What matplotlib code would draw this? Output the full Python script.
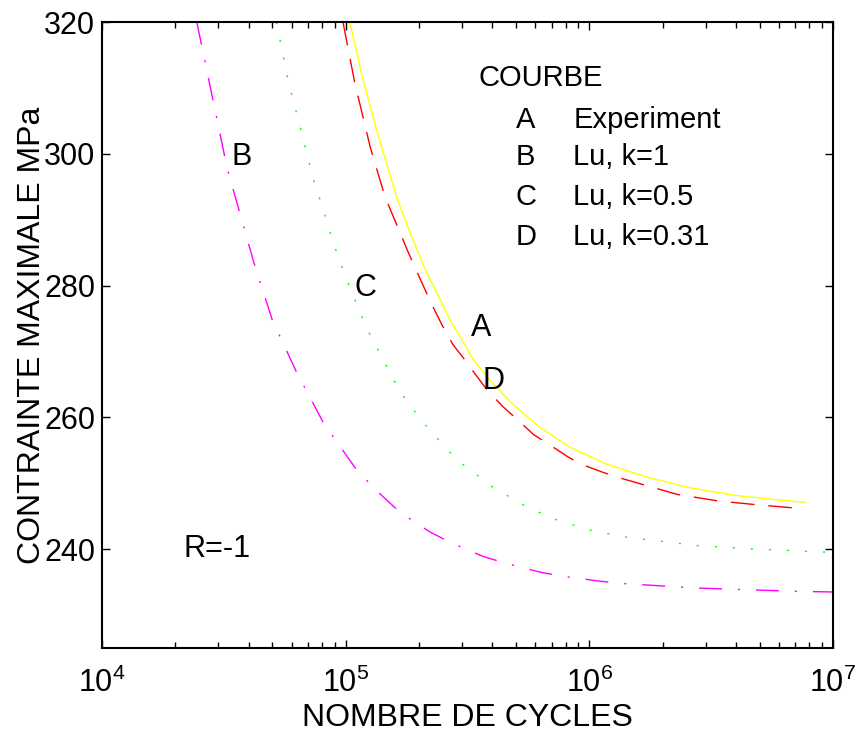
import matplotlib
matplotlib.use('Agg')
import matplotlib.pyplot as plt
from matplotlib.ticker import LogLocator, LogFormatterSciNotation, NullFormatter

plt.rcParams['font.family'] = ['Liberation Sans', 'DejaVu Sans']

# Courbe A : experiment (yellow, solid)
n_a = [1.04e5, 1.18e5, 1.34e5, 1.62e5, 1.84e5, 2.1e5, 2.44e5, 2.68e5, 3.0e5, 3.33e5, 3.98e5,
       4.85e5, 6.26e5, 8.3e5, 1.18e6, 1.74e6, 2.6e6, 3.9e6, 5.5e6, 7.7e6]
s_a = [320.0, 311.2, 303.6, 293.4, 288.0, 282.8, 277.9, 274.8, 271.8, 268.8, 265.3,
       262.0, 258.5, 255.5, 252.9, 250.9, 249.3, 248.2, 247.6, 247.1]

# Courbe D : Lu, k=0.31 (red, dashed)
n_d = [9.75e4, 1.09e5, 1.26e5, 1.45e5, 1.8e5, 2.0e5, 2.26e5, 2.48e5, 2.75e5, 3.03e5, 3.46e5,
       3.8e5, 4.4e5, 4.95e5, 5.9e5, 6.7e5, 8.1e5, 9.1e5, 1.13e6, 1.31e6, 2.3e6, 3.4e6, 5.0e6, 7.2e6]
s_d = [320.0, 310.8, 301.1, 293.5, 285.2, 281.4, 277.1, 274.1, 271.1, 269.1, 266.2,
       264.2, 261.7, 260.0, 257.4, 256.1, 254.1, 253.0, 251.7, 250.9, 248.3, 247.3, 246.7, 246.2]

# Courbe C : Lu, k=0.5 (green, dotted)
n_c = [5.2e4, 5.8e4, 6.6e4, 6.9e4, 7.5e4, 8.0e4, 8.8e4, 9.9e4, 1.21e5, 1.67e5, 2.06e5, 2.6e5,
       2.94e5, 3.4e5, 3.9e5, 5.3e5, 7.0e5, 1.0e6, 1.43e6, 2.84e6, 4.9e6, 1.0e7]
s_c = [320.0, 311.2, 303.2, 300.3, 295.0, 292.3, 287.0, 281.7, 273.8, 263.9, 259.4, 255.2,
       253.2, 251.5, 249.7, 246.8, 244.7, 242.9, 241.8, 240.5, 240.0, 239.5]

# Courbe B : Lu, k=1 (magenta, dash-dot)
n_b = [2.45e4, 3.26e4, 3.8e4, 4.2e4, 5.0e4, 6.3e4, 8.1e4, 1.12e5, 1.42e5, 1.67e5, 2.22e5,
       2.66e5, 3.66e5, 4.5e5, 6.3e5, 7.7e5, 1.07e6, 1.34e6, 2.75e6, 7.0e6, 1.0e7]
s_b = [320.0, 297.9, 289.2, 283.5, 274.8, 266.8, 259.2, 251.8, 248.0, 245.6, 242.6,
       241.1, 238.9, 237.9, 236.5, 235.9, 235.2, 234.8, 234.1, 233.6, 233.5]

legend_letters = ['A', 'B', 'C', 'D']
legend_names = ['Experiment', 'Lu, k=1', 'Lu, k=0.5', 'Lu, k=0.31']

fig = plt.figure(figsize=(8.57, 7.38), dpi=100)
ax = fig.add_axes([0.119, 0.122, 0.853, 0.848])

ax.plot(n_a, s_a, color='#ffff00', lw=1.0)
ax.plot(n_d, s_d, color='#ff0000', lw=1.0, dashes=(17, 10))
ax.plot(n_c, s_c, color='#00ff00', lw=1.0, dashes=(1.5, 11.5))
ax.plot(n_b, s_b, color='#ff00ff', lw=1.0, dashes=(16.5, 11.5, 1.5, 11.5))

ax.set_xscale('log')
ax.set_xlim(1e4, 1e7)
ax.set_ylim(225, 320)
ax.set_yticks([240, 260, 280, 300, 320])

ax.xaxis.set_major_locator(LogLocator(base=10))
ax.xaxis.set_major_formatter(LogFormatterSciNotation())
ax.xaxis.set_minor_locator(LogLocator(base=10, subs=range(2, 10)))
ax.xaxis.set_minor_formatter(NullFormatter())

ax.tick_params(which='both', direction='in', top=True, right=True, width=1)
ax.tick_params(which='major', length=6)
ax.tick_params(which='minor', length=4)
ax.tick_params(axis='x', which='major', labelsize=22, pad=14)
ax.tick_params(axis='y', labelsize=22, pad=5)
for sp in ax.spines.values():
    sp.set_linewidth(1.5)

ax.set_xlabel('NOMBRE DE CYCLES', fontsize=23, labelpad=3)
ax.set_ylabel('CONTRAINTE MAXIMALE MPa', fontsize=23, labelpad=-2)

# curve letters
ax.text(3.75e4, 299.5, 'B', fontsize=22, ha='center', va='center')
ax.text(1.21e5, 279.7, 'C', fontsize=22, ha='center', va='center')
ax.text(3.6e5, 273.5, 'A', fontsize=22, ha='center', va='center')
ax.text(4.06e5, 265.6, 'D', fontsize=22, ha='center', va='center')
ax.text(2.97e4, 240.0, 'R=-1', fontsize=22, ha='center', va='center')

# legend block
ax.text(3.5e5, 311.5, 'COURBE', fontsize=21, ha='left', va='center')
leg_y = [305.2, 299.5, 293.5, 287.4]
for letter, name, y in zip(legend_letters, legend_names, leg_y):
    ax.text(5.0e5, y, letter, fontsize=21, ha='left', va='center')
    ax.text(8.6e5, y, name, fontsize=21, ha='left', va='center')

fig.savefig('out.png', dpi=100)
